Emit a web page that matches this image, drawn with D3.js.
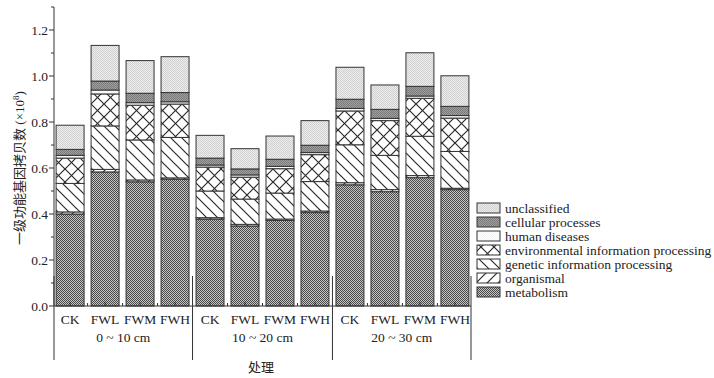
<!DOCTYPE html>
<html>
<head>
<meta charset="utf-8">
<script src="https://cdn.jsdelivr.net/npm/d3@7"></script>
<style>
  body { margin: 0; background: #fff; }
  svg { display: block; }
  text { font-family: "Liberation Serif", "DejaVu Serif", serif; fill: #222; }
</style>
</head>
<body>
<div id="chartArea"></div>
<script>
// data
const groups = ["0 ~ 10 cm", "10 ~ 20 cm", "20 ~ 30 cm"];
const treatments = ["CK", "FWL", "FWM", "FWH"];
const categories = ["metabolism", "organismal", "genetic information processing",
    "environmental information processing", "human diseases", "cellular processes", "unclassified"];

const metabolism   = [0.400, 0.583, 0.540, 0.551, 0.378, 0.348, 0.372, 0.406, 0.527, 0.497, 0.558, 0.506];
const organismal   = [0.009, 0.011, 0.008, 0.006, 0.006, 0.007, 0.006, 0.007, 0.009, 0.009, 0.009, 0.006];
const genetic      = [0.124, 0.189, 0.174, 0.176, 0.116, 0.110, 0.113, 0.128, 0.165, 0.149, 0.171, 0.160];
const environment  = [0.110, 0.139, 0.151, 0.145, 0.104, 0.095, 0.106, 0.117, 0.147, 0.151, 0.165, 0.145];
const human        = [0.012, 0.017, 0.011, 0.010, 0.009, 0.010, 0.010, 0.009, 0.011, 0.010, 0.010, 0.011];
const cellular     = [0.026, 0.039, 0.041, 0.040, 0.030, 0.026, 0.031, 0.032, 0.040, 0.039, 0.042, 0.040];
const unclassified = [0.105, 0.155, 0.142, 0.156, 0.099, 0.088, 0.101, 0.107, 0.139, 0.106, 0.146, 0.133];

const yTicks = [0.0, 0.2, 0.4, 0.6, 0.8, 1.0, 1.2];

const seriesValues = [metabolism, organismal, genetic, environment, human, cellular, unclassified];
const patternIds = ["pMet", "pOrg", "pGen", "pEnv", "pHum", "pCel", "pUnc"];

// build table rows for d3.stack
const keys = [];
groups.forEach(g => treatments.forEach(t => keys.push(g + "|" + t)));
const table = keys.map((k, i) => {
    let row = { key: k };
    categories.forEach((c, j) => row[c] = seriesValues[j][i]);
    return row;
});

const width = 714, height = 378;
const fontSize = 13.5;

const svg = d3.select("#chartArea").append("svg")
    .attr("width", width).attr("height", height);

// patterns
const defs = svg.append("defs");
function dotted(id, base, dot) {
    let p = defs.append("pattern").attr("id", id)
        .attr("patternUnits", "userSpaceOnUse").attr("width", 2).attr("height", 2);
    p.append("rect").attr("width", 2).attr("height", 2).attr("fill", base);
    p.append("rect").attr("width", 1).attr("height", 1).attr("fill", dot);
    p.append("rect").attr("x", 1).attr("y", 1).attr("width", 1).attr("height", 1).attr("fill", dot);
}
dotted("pMet", "#c4c4c4", "#4a4a4a");
dotted("pCel", "#a0a0a0", "#7a7a7a");
dotted("pUnc", "#ededed", "#d0d0d0");
dotted("pHum", "#ffffff", "#f3f3f3");

function hatch(id, size, dirs) {
    let p = defs.append("pattern").attr("id", id)
        .attr("patternUnits", "userSpaceOnUse").attr("width", size).attr("height", size);
    p.append("rect").attr("width", size).attr("height", size).attr("fill", "#fff");
    let s = size;
    if (dirs.includes("back")) {
        p.append("path").attr("d", `M0,0L${s},${s}M${-s},0L${s},${2 * s}M0,${-s}L${2 * s},${s}`)
            .attr("stroke", "#2a2a2a").attr("stroke-width", 1.2);
    }
    if (dirs.includes("fwd")) {
        p.append("path").attr("d", `M0,${s}L${s},0M${-s},${s}L${s},${-s}M0,${2 * s}L${2 * s},0`)
            .attr("stroke", "#2a2a2a").attr("stroke-width", 1.2);
    }
}
hatch("pOrg", 11, ["fwd"]);
hatch("pGen", 11, ["back"]);
hatch("pEnv", 13, ["back", "fwd"]);

const xScale = d3.scaleBand()
    .domain(keys)
    .range([54, 471])
    .paddingInner(0.2)
    .paddingOuter(0.06);

const yScale = d3.scaleLinear()
    .domain([0, 1.3])
    .range([306, 7]);

const stack = d3.stack().keys(categories);
const stacked = stack(table);

const layers = svg.append("g");
stacked.forEach((layer, j) => {
    layers.append("g").selectAll("rect")
        .data(layer)
        .join("rect")
            .attr("x", d => xScale(d.data.key))
            .attr("width", xScale.bandwidth())
            .attr("y", d => yScale(d[1]))
            .attr("height", d => yScale(d[0]) - yScale(d[1]))
            .attr("fill", "url(#" + patternIds[j] + ")")
            .attr("stroke", "#333")
            .attr("stroke-width", 1);
});

// y axis
const yAxis = svg.append("g").attr("class", "y axis");
yAxis.append("line")
    .attr("x1", 54).attr("x2", 54)
    .attr("y1", yScale(1.3)).attr("y2", yScale(0))
    .attr("stroke", "#333");
d3.range(0, 14).forEach(i => {
    let v = i / 10;
    let major = i % 2 === 0;
    yAxis.append("line")
        .attr("x1", 54 - (major ? 5 : 3)).attr("x2", 54)
        .attr("y1", yScale(v)).attr("y2", yScale(v))
        .attr("stroke", "#333");
});
yAxis.selectAll("text.tick")
    .data(yTicks)
    .join("text")
        .attr("class", "tick")
        .attr("x", 48)
        .attr("y", d => yScale(d))
        .attr("dy", "0.36em")
        .attr("text-anchor", "end")
        .attr("font-size", fontSize)
        .text(d => d3.format(".1f")(d));

// y axis title
const yTitle = svg.append("text")
    .attr("transform", "translate(24,168) rotate(-90)")
    .attr("text-anchor", "middle")
    .attr("font-size", 13)
    .style("font-family", "'Noto Sans CJK SC', sans-serif");
yTitle.append("tspan").text("一级功能基因拷贝数");
yTitle.append("tspan").style("font-family", "'Liberation Serif', serif").text(" (×10");
yTitle.append("tspan").style("font-family", "'Liberation Serif', serif")
    .attr("font-size", 9).attr("dy", -5).text("8");
yTitle.append("tspan").style("font-family", "'Liberation Serif', serif")
    .attr("dy", 5).text(")");

// x axis
const xAxis = svg.append("g").attr("class", "x axis");
xAxis.append("line")
    .attr("x1", 54).attr("x2", 471)
    .attr("y1", 306).attr("y2", 306)
    .attr("stroke", "#333");
keys.forEach((k, i) => {
    let cx = xScale(k) + xScale.bandwidth() / 2;
    xAxis.append("line")
        .attr("x1", cx).attr("x2", cx).attr("y1", 306).attr("y2", 302)
        .attr("stroke", "#333");
    if (i < keys.length - 1) {
        let mx = (xScale(k) + xScale.bandwidth() + xScale(keys[i + 1])) / 2;
        xAxis.append("line")
            .attr("x1", mx).attr("x2", mx).attr("y1", 306).attr("y2", 303)
            .attr("stroke", "#333");
    }
    xAxis.append("text")
        .attr("x", cx).attr("y", 324)
        .attr("text-anchor", "middle")
        .attr("font-size", fontSize)
        .text(k.split("|")[1]);
});

// group separators and labels
const sepX = [54];
groups.forEach((g, gi) => {
    let lastKey = keys[gi * 4 + 3];
    let endX = gi < groups.length - 1
        ? (xScale(lastKey) + xScale.bandwidth() + xScale(keys[gi * 4 + 4])) / 2
        : 471;
    sepX.push(endX);
});
sepX.forEach(sx => {
    xAxis.append("line")
        .attr("x1", sx).attr("x2", sx).attr("y1", 276).attr("y2", 360)
        .attr("stroke", "#333");
});
groups.forEach((g, gi) => {
    xAxis.append("text")
        .attr("x", (sepX[gi] + sepX[gi + 1]) / 2).attr("y", 342)
        .attr("text-anchor", "middle")
        .attr("font-size", fontSize)
        .text(g);
});

svg.append("text")
    .attr("x", 261).attr("y", 372)
    .attr("text-anchor", "middle")
    .attr("font-size", 13)
    .style("font-family", "'Noto Sans CJK SC', sans-serif")
    .text("处理");

// legend (top item is last category)
const legend = svg.append("g").attr("class", "legend");
const legendOrder = categories.map((c, j) => j).reverse();
legendOrder.forEach((j, i) => {
    let y0 = 203 + i * 14;
    legend.append("rect")
        .attr("x", 477).attr("y", y0)
        .attr("width", 23).attr("height", 10)
        .attr("fill", "url(#" + patternIds[j] + ")")
        .attr("stroke", "#333");
    legend.append("text")
        .attr("x", 505).attr("y", y0 + 5)
        .attr("dy", "0.35em")
        .attr("font-size", fontSize)
        .text(categories[j]);
});
</script>
</body>
</html>
